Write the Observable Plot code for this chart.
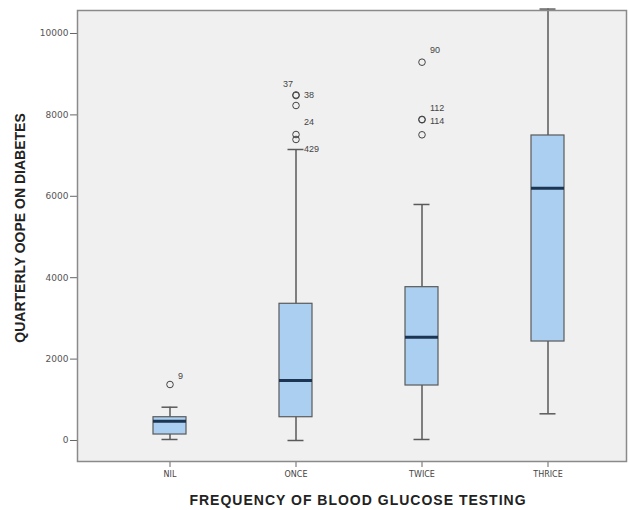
<!DOCTYPE html>
<html>
<head>
<meta charset="utf-8">
<script src="https://cdn.jsdelivr.net/npm/d3@7"></script>
<script src="https://cdn.jsdelivr.net/npm/@observablehq/plot@0.6"></script>
<style>
  html, body { margin: 0; padding: 0; background: #fff; }
  #chart svg { font-family: "Liberation Sans", Arial, sans-serif; }
  g[aria-label="y-axis tick label"] text { fill: #555; font-size: 9px; font-family: "DejaVu Sans", sans-serif; }
  g[aria-label="x-axis tick label"] text { fill: #444; font-size: 8px; font-family: "DejaVu Sans", sans-serif; }
</style>
</head>
<body>
<div id="chart"></div>
<script>
// Quarterly out-of-pocket expenditure on diabetes by frequency of blood glucose testing
const groups = ["NIL", "ONCE", "TWICE", "THRICE"];
const lowerWhisker = [25, 0, 25, 656];
const lowerQuartile = [147, 572, 1351, 2432];
const median = [474, 1474, 2538, 6199];
const upperQuartile = [572, 3359, 3767, 7494];
const upperWhisker = [818, 7150, 5799, 10600];

// Outlying cases
const outlierGroup = ["NIL", "ONCE", "ONCE", "ONCE", "ONCE", "ONCE", "TWICE", "TWICE", "TWICE", "TWICE"];
const outlierValue = [1376, 8490, 8476, 8231, 7518, 7396, 9295, 7890, 7880, 7511];

// Case numbers printed beside the outliers
const caseGroup = ["NIL", "ONCE", "ONCE", "ONCE", "ONCE", "TWICE", "TWICE", "TWICE"];
const caseValue = [1572, 8747, 8476, 7813, 7150, 9582, 8157, 7838];
const caseLabel = ["9", "37", "38", "24", "429", "90", "112", "114"];

const yTicks = [0, 2000, 4000, 6000, 8000, 10000];
const xTitle = "FREQUENCY OF BLOOD GLUCOSE TESTING";
const yTitle = "QUARTERLY OOPE ON DIABETES";

const boxes = groups.map((g, i) => ({
  group: g,
  lo: lowerWhisker[i],
  q1: lowerQuartile[i],
  med: median[i],
  q3: upperQuartile[i],
  hi: upperWhisker[i]
}));
const outliers = outlierGroup.map((g, i) => ({group: g, value: outlierValue[i]}));
const cases = caseGroup.map((g, i) => ({group: g, value: caseValue[i], label: caseLabel[i]}));
const leftCases = cases.filter(d => d.label === "37");
const rightCases = cases.filter(d => d.label !== "37");

const boxStroke = "#5a5a5a";

const chart = Plot.plot({
  width: 629,
  height: 510,
  marginLeft: 77,
  marginRight: 3,
  marginTop: 10,
  marginBottom: 49,
  style: {background: "#fff", overflow: "visible"},
  x: {
    type: "band",
    domain: groups,
    paddingInner: 0.74,
    paddingOuter: 0.37,
    insetLeft: 27.7,
    insetRight: 14.7,
    label: null
  },
  y: {
    domain: [-516, 10565],
    label: null
  },
  marks: [
    Plot.frame({fill: "#f0f0f0"}),
    // whiskers
    Plot.ruleX(boxes, {x: "group", y1: "lo", y2: "q1", stroke: boxStroke, strokeWidth: 1.5}),
    Plot.ruleX(boxes, {x: "group", y1: "q3", y2: "hi", stroke: boxStroke, strokeWidth: 1.5}),
    Plot.tickY(boxes, {x: "group", y: "lo", stroke: boxStroke, strokeWidth: 1.5, insetLeft: 8.5, insetRight: 8.5}),
    Plot.tickY(boxes, {x: "group", y: "hi", stroke: boxStroke, strokeWidth: 1.5, insetLeft: 8.5, insetRight: 8.5}),
    // boxes
    Plot.barY(boxes, {x: "group", y1: "q1", y2: "q3", fill: "#abcff0", stroke: boxStroke, strokeWidth: 1.2}),
    Plot.tickY(boxes, {x: "group", y: "med", stroke: "#1b3552", strokeWidth: 3}),
    // outliers
    Plot.dot(outliers, {x: "group", y: "value", r: 3.3, stroke: "#444", strokeWidth: 1, fill: "none"}),
    Plot.text(rightCases, {x: "group", y: "value", text: "label", textAnchor: "start", dx: 8, fontSize: 9, fill: "#444"}),
    Plot.text(leftCases, {x: "group", y: "value", text: "label", textAnchor: "end", dx: -3, fontSize: 9, fill: "#444"}),
    // axes
    Plot.axisY({
      ticks: yTicks,
      tickFormat: d => String(d),
      tickSize: 7,
      tickPadding: 2,
      stroke: "#666",
      label: null
    }),
    Plot.axisX({
      tickSize: 6,
      tickPadding: 4,
      stroke: "#666",
      label: null
    }),
    // axis titles
    Plot.text([yTitle], {
      frameAnchor: "left", textAnchor: "middle", rotate: -90, dx: -57, dy: -8,
      fontSize: 14, fontWeight: "bold", fill: "#222", lineAnchor: "middle"
    }),
    Plot.text([xTitle], {
      frameAnchor: "bottom", textAnchor: "middle", dx: 6, dy: 39,
      fontSize: 14, fontWeight: "bold", fill: "#222", lineAnchor: "middle"
    }),
    Plot.frame({stroke: "#8a8a8a", strokeWidth: 1.5})
  ]
});

// the horizontal title is set a little wider
d3.select(chart).selectAll("text")
  .filter(function () { return this.textContent === xTitle; })
  .attr("letter-spacing", "1px");

document.getElementById("chart").appendChild(chart);
</script>
</body>
</html>
